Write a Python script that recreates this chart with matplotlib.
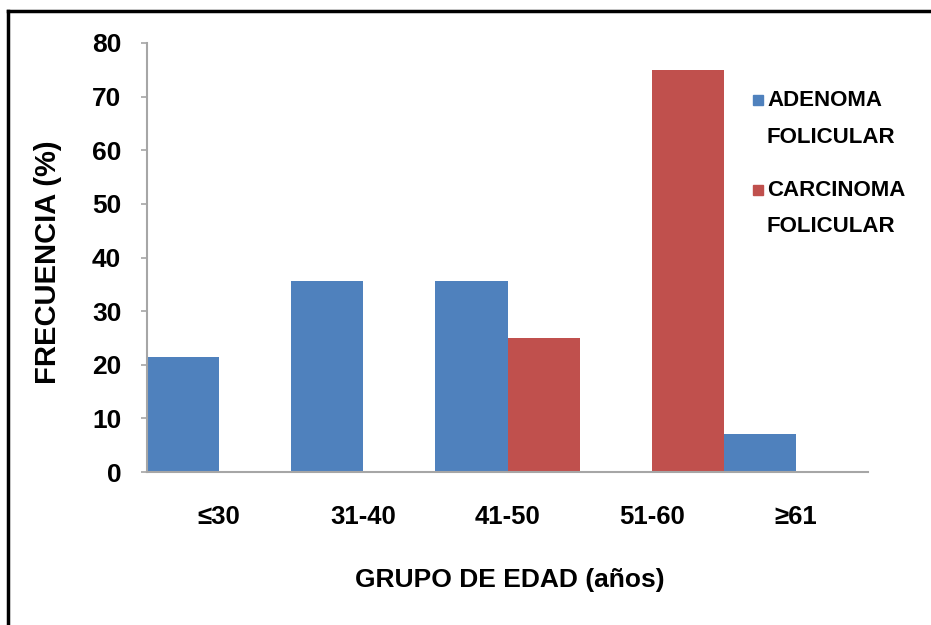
import matplotlib
matplotlib.use("Agg")
import matplotlib.pyplot as plt
import numpy as np
from matplotlib.lines import Line2D
from matplotlib.patches import Rectangle

categories = ["≤30", "31-40", "41-50", "51-60", "≥61"]
adenoma = [21.4, 35.7, 35.7, 0.0, 7.1]
carcinoma = [0.0, 0.0, 25.0, 75.0, 0.0]
series_names = ["ADENOMA\nFOLICULAR", "CARCINOMA\nFOLICULAR"]
yticks = [0, 10, 20, 30, 40, 50, 60, 70, 80]

BLUE = "#4F81BD"
RED = "#C0504D"
GRAY = "#A6A6A6"
FONT = ["Liberation Sans Narrow", "Liberation Sans", "DejaVu Sans"]

plt.rcParams["font.family"] = FONT
plt.rcParams["font.weight"] = "bold"

W, H = 931, 625
fig = plt.figure(figsize=(W / 100, H / 100), dpi=100)
fig.patch.set_facecolor("white")

left, right, top, bottom = 147, 868, 43, 472
ax = fig.add_axes([left / W, 1 - bottom / H, (right - left) / W, (bottom - top) / H])

x = np.arange(len(categories))
bw = 0.5
ax.bar(x - bw / 2, adenoma, width=bw, color=BLUE, label=series_names[0])
ax.bar(x + bw / 2, carcinoma, width=bw, color=RED, label=series_names[1])

ax.set_xlim(-0.5, len(categories) - 0.5)
ax.set_ylim(0, 80)
ax.set_yticks(yticks)
ax.set_yticklabels([str(v) for v in yticks])
ax.set_xticks(x)
ax.set_xticklabels(categories)

for s in ["top", "right"]:
    ax.spines[s].set_visible(False)
for s in ["left", "bottom"]:
    ax.spines[s].set_color(GRAY)
    ax.spines[s].set_linewidth(1.5)

ax.tick_params(axis="y", direction="out", length=4.5, width=1.2, color=GRAY,
               pad=14, labelsize=19)
ax.tick_params(axis="x", length=0, pad=24, labelsize=18.5)
for lab in ax.get_xticklabels() + ax.get_yticklabels():
    lab.set_fontweight("bold")

fig.text(48 / W, 1 - 262 / H, "FRECUENCIA (%)", rotation=90, ha="center", va="center",
         fontsize=21, fontweight="bold")
fig.text(510 / W, 1 - 580 / H, "GRUPO DE EDAD (años)", ha="center", va="center",
         fontsize=19, fontweight="bold")

# legend (manual)
leg_items = [(BLUE, series_names[0], 100), (RED, series_names[1], 190)]
for color, name, ytop in leg_items:
    line1, line2 = name.split("\n")
    fig.add_artist(Rectangle(((753) / W, 1 - (ytop + 5) / H), 10 / W, 10 / H,
                             transform=fig.transFigure, color=color))
    fig.text(767 / W, 1 - ytop / H, line1, ha="left", va="center", fontsize=16,
             fontweight="bold")
    fig.text(767 / W, 1 - (ytop + 37) / H, line2, ha="left", va="center", fontsize=16,
             fontweight="bold")

# outer frame (top and left edges)
fig.add_artist(Line2D([8 / W, 1], [1 - 11 / H, 1 - 11 / H], transform=fig.transFigure,
                      color="black", linewidth=2.5))
fig.add_artist(Line2D([8 / W, 8 / W], [0, 1 - 11 / H], transform=fig.transFigure,
                      color="black", linewidth=2.5))

fig.savefig("out.png", dpi=100, facecolor="white")
